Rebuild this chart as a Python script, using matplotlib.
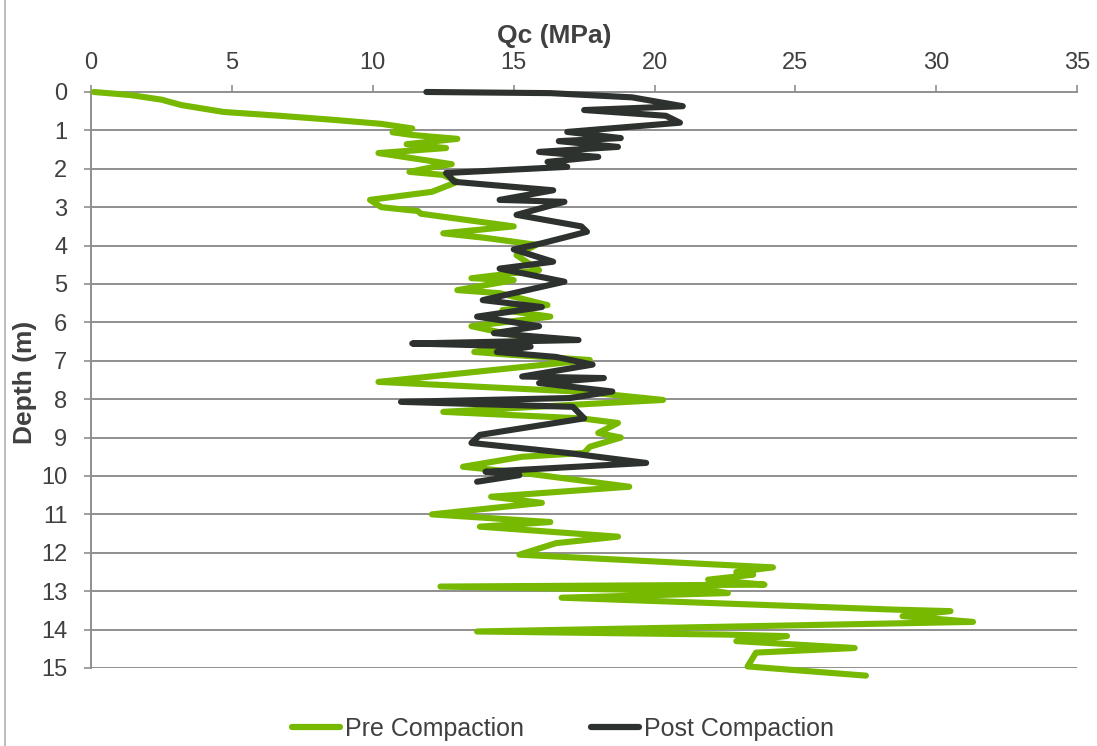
import matplotlib.pyplot as plt
from matplotlib.lines import Line2D

# Qc (MPa) vs depth (m)
pre_qc = [0.1, 1.4, 2.5, 3.2, 4.7, 6.7, 8.5, 10.3, 11.4, 10.7, 11.4, 13.0, 11.2, 12.6, 10.2,
          12.8, 12.1, 11.3, 12.5, 13.0, 12.1, 9.9, 10.3, 11.6, 11.7, 15.0, 12.5, 14.0, 15.8,
          15.1, 15.9, 13.5, 15.0, 13.0, 14.5, 16.2, 14.6, 16.3, 13.5, 15.8, 13.6, 15.0, 17.7,
          10.2, 17.5, 20.3, 12.5, 17.4, 18.7, 18.0, 18.8, 17.7, 17.5, 15.3, 13.2, 15.1, 19.1,
          14.2, 16.0, 12.1, 16.3, 13.8, 18.7, 16.5, 15.2, 24.2, 22.9, 23.5, 21.9, 23.9, 12.4,
          22.2, 22.6, 16.7, 28.5, 30.5, 28.8, 31.3, 13.7, 22.5, 24.7, 22.9, 27.1, 23.6, 23.3,
          27.5]
pre_depth = [0.0, 0.08, 0.2, 0.34, 0.52, 0.62, 0.72, 0.83, 0.95, 1.05, 1.12, 1.22, 1.36, 1.46,
             1.59, 1.88, 1.96, 2.08, 2.16, 2.34, 2.6, 2.81, 3.0, 3.1, 3.17, 3.5, 3.68, 3.8, 3.98,
             4.25, 4.64, 4.85, 4.9, 5.16, 5.24, 5.55, 5.68, 5.85, 6.1, 6.46, 6.77, 6.85, 6.98,
             7.55, 7.81, 8.02, 8.33, 8.5, 8.62, 8.88, 9.0, 9.24, 9.4, 9.5, 9.76, 9.9, 10.28,
             10.54, 10.7, 11.0, 11.2, 11.32, 11.58, 11.75, 12.05, 12.38, 12.5, 12.57, 12.7,
             12.83, 12.88, 13.0, 13.05, 13.17, 13.48, 13.52, 13.65, 13.8, 14.05, 14.13, 14.17,
             14.3, 14.48, 14.6, 14.96, 15.2]

post_qc = [11.9, 16.3, 19.2, 21.0, 17.5, 20.4, 20.9, 16.9, 18.8, 16.6, 18.7, 15.9, 18.0, 16.2,
           16.9, 12.6, 12.9, 16.4, 14.5, 16.8, 15.1, 17.4, 17.6, 16.0, 15.0, 16.4, 14.5, 16.8,
           13.9, 16.0, 13.7, 15.9, 14.3, 17.3, 11.4, 15.6, 14.4, 16.5, 17.8, 15.3, 18.2, 15.9,
           18.5, 17.0, 11.0, 17.1, 17.5, 13.8, 13.5, 16.9, 19.7, 14.0, 15.2, 13.7]
post_depth = [0.0, 0.03, 0.14, 0.37, 0.47, 0.62, 0.8, 1.04, 1.2, 1.28, 1.43, 1.56, 1.69, 1.82,
              1.95, 2.11, 2.34, 2.56, 2.81, 2.86, 3.2, 3.5, 3.64, 3.94, 4.1, 4.42, 4.6, 4.94,
              5.42, 5.6, 5.85, 6.1, 6.28, 6.46, 6.55, 6.63, 6.77, 6.9, 7.1, 7.41, 7.45, 7.58,
              7.8, 7.97, 8.07, 8.2, 8.5, 8.93, 9.14, 9.4, 9.66, 9.89, 9.98, 10.15]

x_ticks = [0, 5, 10, 15, 20, 25, 30, 35]
y_ticks = list(range(0, 16))

plt.rcParams['font.family'] = ['Liberation Sans', 'DejaVu Sans']

fig = plt.figure(figsize=(10.97, 7.46), dpi=100)
ax = fig.add_axes([0.083, 0.1046, 0.899, 0.7721])

green = '#77b800'
dark = '#2e322e'
grid_c = '#8f8f8f'
text_c = '#404040'

ax.plot(pre_qc, pre_depth, color=green, lw=4.4, solid_capstyle='round',
        solid_joinstyle='round', clip_on=False, label='Pre Compaction', zorder=3)
ax.plot(post_qc, post_depth, color=dark, lw=4.4, solid_capstyle='round',
        solid_joinstyle='round', clip_on=False, label='Post Compaction', zorder=4)

ax.set_xlim(0, 35)
ax.set_ylim(15, 0)
ax.xaxis.tick_top()
ax.set_xticks(x_ticks)
ax.set_yticks(y_ticks)
for d in y_ticks[1:]:
    ax.axhline(d, color=grid_c, lw=1.4, zorder=1)

for s in ['right', 'bottom']:
    ax.spines[s].set_visible(False)
for s in ['top', 'left']:
    ax.spines[s].set_color(grid_c)
    ax.spines[s].set_linewidth(1.4)

ax.tick_params(axis='both', colors=grid_c, length=5, width=1.2, labelsize=17,
               labelcolor=text_c)
ax.tick_params(axis='x', pad=8)
ax.tick_params(axis='y', pad=12)

fig.text(0.505, 0.952, 'Qc (MPa)', ha='center', va='center', fontsize=19,
         fontweight='bold', color=text_c)
fig.text(0.0228, 0.487, 'Depth (m)', ha='center', va='center', rotation=90,
         fontsize=19, fontweight='bold', color=text_c)

handles = [Line2D([], [], color=green, lw=4.5, solid_capstyle='round'),
           Line2D([], [], color=dark, lw=4.5, solid_capstyle='round')]
fig.legend(handles, ['Pre Compaction', 'Post Compaction'], loc='center',
           bbox_to_anchor=(0.513, 0.023), ncol=2, frameon=False, fontsize=18,
           handlelength=1.9, handletextpad=0.2, columnspacing=2.7, labelcolor=text_c)

fig.add_artist(Line2D([0.005, 0.005], [0, 1], color='#b0b0b0', lw=1.2,
                      transform=fig.transFigure))

fig.savefig('out.png', dpi=100)
